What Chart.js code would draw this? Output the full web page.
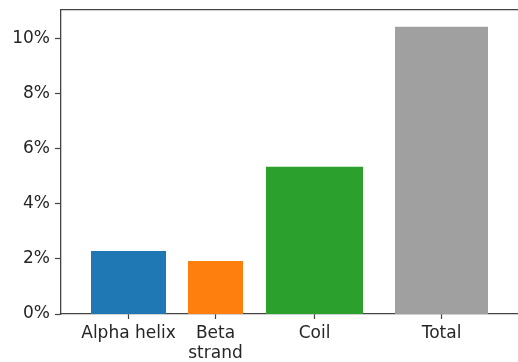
<!DOCTYPE html>
<html>
<head>
<meta charset="utf-8">
<script src="https://cdn.jsdelivr.net/npm/chart.js@4"></script>
<style>
  body { margin: 0; background: #fff; }
  #wrap { width: 518px; height: 362px; }
</style>
</head>
<body>
<div id="wrap"><canvas id="chart"></canvas></div>
<script>
// data
const categories = ['Alpha helix', 'Beta strand', 'Coil', 'Total'];
const tickLines = [['Alpha helix'], ['Beta', 'strand'], ['Coil'], ['Total']];
const values = [2.29, 1.93, 5.35, 10.44];   // percent
const yTicks = [0, 2, 4, 6, 8, 10];

// bar layout along the x axis (axis units)
const barCenters = [0.675, 1.545, 2.535, 3.805];
const barWidths = [0.75, 0.55, 0.97, 0.93];
const colors = ['#1f77b4', '#ff7f0e', '#2ca02c', '#a0a0a0'];

const FONT = { family: 'DejaVu Sans', size: 17 };
const INK = '#262626';

// each bar is a filled two point line down to 0
const datasets = categories.map((name, i) => ({
    label: name,
    data: [
        { x: barCenters[i] - barWidths[i] / 2, y: values[i] },
        { x: barCenters[i] + barWidths[i] / 2, y: values[i] }
    ],
    fill: 'origin',
    backgroundColor: colors[i],
    borderWidth: 0,
    pointRadius: 0,
    pointHoverRadius: 0,
    tension: 0
}));

new Chart(document.querySelector('#chart'), {
    type: 'line',
    data: { datasets: datasets },
    options: {
        responsive: true,
        maintainAspectRatio: false,
        animation: false,
        layout: { padding: { top: 10, left: 0, right: 0, bottom: 0 } },
        plugins: {
            legend: { display: false },
            tooltip: { enabled: false }
        },
        scales: {
            x: {
                type: 'linear',
                min: 0,
                max: 4.57,
                afterBuildTicks: scale => {
                    scale.ticks = barCenters.map(v => ({ value: v }));
                },
                afterFit: scale => { scale.height = 48; },
                ticks: {
                    autoSkip: false,
                    maxRotation: 0,
                    padding: 4,
                    color: INK,
                    font: FONT,
                    callback: (value, index) => tickLines[index]
                },
                grid: {
                    drawOnChartArea: false,
                    drawTicks: true,
                    tickLength: 5,
                    tickWidth: 1.2,
                    tickColor: '#444'
                },
                border: { display: true, color: '#444', width: 1.3 }
            },
            xTop: {
                type: 'linear',
                position: 'top',
                min: 0,
                max: 4.57,
                afterFit: scale => { scale.height = 0; },
                ticks: { display: false },
                grid: { display: false },
                border: { display: true, color: '#444', width: 1.3 }
            },
            y: {
                min: 0,
                max: 11.05,
                afterBuildTicks: scale => {
                    scale.ticks = yTicks.map(v => ({ value: v }));
                },
                afterFit: scale => {
                    scale.width = 61;
                    scale.paddingTop = 0;
                    scale.paddingBottom = 0;
                },
                ticks: {
                    padding: 5,
                    color: INK,
                    font: FONT,
                    callback: v => v + '%'
                },
                grid: {
                    drawOnChartArea: false,
                    drawTicks: true,
                    tickLength: 6,
                    tickWidth: 1.2,
                    tickColor: '#444'
                },
                border: { display: true, color: '#444', width: 1.3 }
            }
        }
    }
});
</script>
</body>
</html>
